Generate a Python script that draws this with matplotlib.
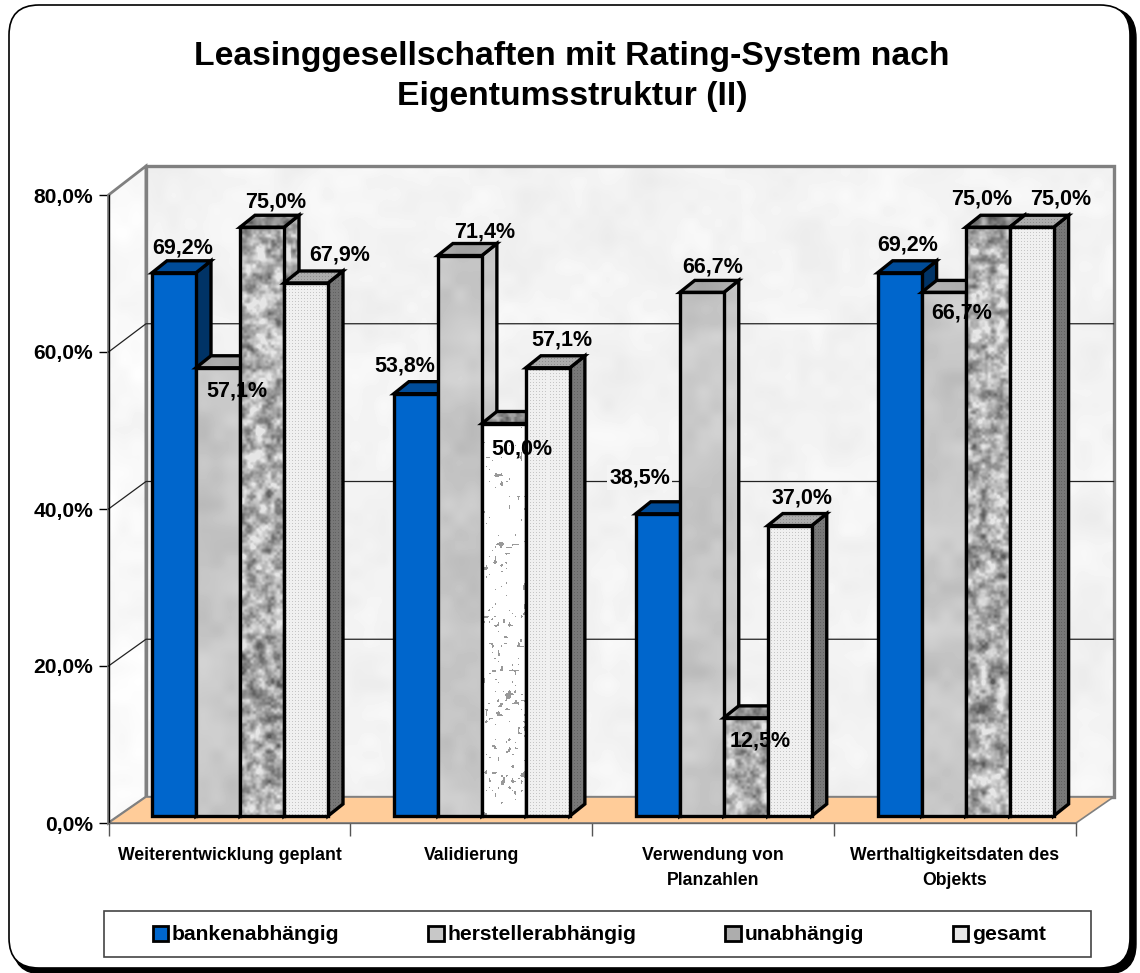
import numpy as np
import matplotlib
matplotlib.use("Agg")
import matplotlib.pyplot as plt
from matplotlib.patches import Polygon, Patch, FancyBboxPatch, Rectangle

plt.rcParams['font.family'] = ['Liberation Sans', 'DejaVu Sans']
plt.rcParams['font.weight'] = 'bold'

title = "Leasinggesellschaften mit Rating-System nach\nEigentumsstruktur (II)"
categories = ["Weiterentwicklung geplant", "Validierung",
              "Verwendung von\nPlanzahlen", "Werthaltigkeitsdaten des\nObjekts"]
series = ["bankenabhängig", "herstellerabhängig", "unabhängig", "gesamt"]
bankenabhaengig = [69.2, 53.8, 38.5, 69.2]
herstellerabhaengig = [57.1, 71.4, 66.7, 66.7]
unabhaengig = [75.0, 50.0, 12.5, 75.0]
gesamt = [67.9, 57.1, 37.0, 75.0]
yticks = [0, 20, 40, 60, 80]

# label offsets from bar centre / bar top, in pixels (up is positive)
label_off = [
    [(9, 25), (19, -23), (14, 25), (34, 28)],
    [(-11, 28), (25, 24), (18, -25), (14, 28)],
    [(-18, 36), (11, 25), (14, -23), (12, 28)],
    [(8, 28), (18, -21), (-6, 28), (29, 28)],
]

W, H = 1140, 973
ux = (1076 - 108.5) / 4   # px per category
uy = 628 / 80             # px per percent

yy, xx = np.mgrid[0:1000, 0:1200]


def noise(cell, seed):
    # value noise from a sine hash
    i, j = xx // cell, yy // cell
    fx, fy = (xx % cell) / cell, (yy % cell) / cell
    fx, fy = fx * fx * (3 - 2 * fx), fy * fy * (3 - 2 * fy)

    def h(a, b):
        v = np.sin(a * 12.9898 + b * 78.233 + seed) * 43758.5453
        return v - np.floor(v)
    top = h(i, j) * (1 - fx) + h(i + 1, j) * fx
    bot = h(i, j + 1) * (1 - fx) + h(i + 1, j + 1) * fx
    return top * (1 - fy) + bot * fy


soft = 0.6 * noise(40, 1.0) + 0.4 * noise(14, 2.0) - 0.5
tex_wall = np.clip(0.95 + 0.06 * soft, 0, 1)
tex_herst = np.clip(0.78 + 0.12 * soft, 0, 1)
n = 0.5 * noise(9, 3.0) + 0.3 * noise(5, 4.0) + 0.2 * noise(3, 5.0) - 0.5
tex_gran = np.clip(0.68 + 0.9 * n, 0.35, 0.9)
spk = noise(3, 6.0) * 0.7 + noise(12, 7.0) * 0.3
tex_spk = np.where(spk > 0.77, 0.6, 1.0)
tex_dots = np.ones_like(tex_wall)
tex_dots[::3, ::3] = 0.82
tex_dots = tex_dots * 0.94

styles = [
    # front, side, top : (texture, tint)
    ((None, "#0066CC"), (None, "#003366"), (None, "#004C99")),
    ((tex_herst, 1.0), (tex_herst, 1.02), (tex_herst, 0.86)),
    ((tex_gran, 1.0), (tex_gran, 1.0), (tex_gran, 0.8)),
    ((tex_dots, 1.0), (tex_dots, 0.5), (tex_dots, 0.72)),
]
style_spk = ((tex_spk, 1.0), (tex_herst, 1.0), (tex_gran, 0.8))

fig = plt.figure(figsize=(W / 100, H / 100), dpi=100)

# frame
bg = fig.add_axes([0, 0, 1, 1], zorder=0)
bg.set_xlim(0, W)
bg.set_ylim(H, 0)
bg.axis("off")
bg.add_patch(FancyBboxPatch((13, 8), 1123, 966, boxstyle="round,pad=0,rounding_size=30",
                            fc="black", ec="black", lw=1))
bg.add_patch(FancyBboxPatch((9, 5), 1121, 963, boxstyle="round,pad=0,rounding_size=30",
                            fc="white", ec="black", lw=1.2))

ax = fig.add_axes([108.5 / W, (H - 823) / H, (1076 - 108.5) / W, 628 / H], zorder=1)
ax.patch.set_visible(False)
ax.set_xlim(0, 4)
ax.set_ylim(0, 80)
ax.set_autoscale_on(False)

z = [2]


def face(pts, tex, tint, edge=True, lw=2.4, ec="black"):
    z[0] += 1
    pts = np.array(pts)
    poly = Polygon(pts, closed=True, clip_on=False, zorder=z[0] + 0.5, lw=lw if edge else 0,
                   fc="none" if tex is not None else tint, ec=ec, joinstyle="miter")
    ax.add_patch(poly)
    if tex is not None:
        x0, x1 = pts[:, 0].min(), pts[:, 0].max()
        y0, y1 = pts[:, 1].min(), pts[:, 1].max()
        w = max(int((x1 - x0) * ux) + 1, 1)
        h = max(int((y1 - y0) * uy) + 1, 1)
        ox, oy = int(x0 * 97) % (1200 - min(w, 1100)), int(y0 * 13) % (1000 - min(h, 900))
        im = ax.imshow(tex[oy:oy + h, ox:ox + w] * tint, cmap="gray", vmin=0, vmax=1,
                       extent=(x0, x1, y0, y1), aspect="auto", origin="lower",
                       interpolation="nearest", zorder=z[0])
        im.set_clip_box(fig.bbox)
        im.set_clip_path(Polygon(pts, closed=True, transform=ax.transData))


# walls and floor
wall_dx = 37.5 / ux
bot = 26 / uy
top = 80 + 29 / uy


def back_y(v):
    return bot + v * (top - bot) / 80


face([(0, 0), (wall_dx, bot), (wall_dx, top), (0, 80)], tex_wall, 1.03, ec="#808080", lw=2)
face([(wall_dx, bot), (4 + wall_dx, bot), (4 + wall_dx, top), (wall_dx, top)], tex_wall, 1.0,
     ec="#808080", lw=2.4)
face([(0, 0), (4, 0), (4 + wall_dx, bot), (wall_dx, bot)], None, "#FFCC99", ec="#808080", lw=1.2)

z[0] += 1
for v in yticks[1:-1]:
    ax.plot([0, wall_dx, 4 + wall_dx], [v, back_y(v), back_y(v)], color="#222222", lw=0.9,
            zorder=z[0], clip_on=False)

# bars
bar_x0 = (152 - 108.5) / ux
bar_w = 44 / ux
base = 7 / uy
ddx = 15 / ux
ddy = 12 / uy
values = [bankenabhaengig, herstellerabhaengig, unabhaengig, gesamt]

for g in range(4):
    for s in range(4):
        v = values[s][g]
        x0 = g + bar_x0 + s * bar_w
        x1 = x0 + bar_w
        yt = base + v
        st = styles[s]
        if s == 2 and g == 1:
            st = style_spk
        face([(x1, base), (x1 + ddx, base + ddy), (x1 + ddx, yt + ddy), (x1, yt)], *st[1])
        face([(x0, yt), (x0 + ddx, yt + ddy), (x1 + ddx, yt + ddy), (x1, yt)], *st[2])
        face([(x0, base), (x1, base), (x1, yt), (x0, yt)], *st[0])

# data labels on top of everything
for g in range(4):
    for s in range(4):
        v = values[s][g]
        cx = g + bar_x0 + (s + 0.5) * bar_w
        bbox = None
        if g == 2 and s == 0:
            bbox = dict(fc="#f4f4f4", ec="none", pad=1.5)
        ax.annotate(f"{v:.1f}%".replace(".", ","), (cx, base + v), xytext=label_off[g][s],
                    textcoords="offset pixels", ha="center", va="center", fontsize=15.5,
                    color="black", zorder=500, annotation_clip=False, bbox=bbox)

# axes
for sp in ["top", "right"]:
    ax.spines[sp].set_visible(False)
ax.spines["left"].set_color("black")
ax.spines["left"].set_linewidth(1)
ax.spines["bottom"].set_color("#666666")
ax.spines["bottom"].set_linewidth(1)
ax.spines["left"].set_zorder(400)
ax.spines["bottom"].set_zorder(400)
ax.set_yticks(yticks)
ax.set_yticklabels([f"{t},0%" for t in yticks], fontsize=15.1)
ax.tick_params(axis="y", length=7, width=1, pad=4)
ax.set_xticks(range(5))
ax.set_xticklabels([])
ax.tick_params(axis="x", which="major", length=9, width=1, color="#555555")
ax.set_xticks([0.5, 1.5, 2.5, 3.5], minor=True)
ax.set_xticklabels(categories, minor=True, fontsize=12.7, linespacing=1.68)
ax.tick_params(axis="x", which="minor", length=0, pad=17)

fig.text(572 / W, 1 - 76.5 / H, title, ha="center", va="center", fontsize=24.3, linespacing=1.41)

# legend
bg.add_patch(Rectangle((104, 911), 987, 46, fc="white", ec="#444444", lw=1.2))
colors = ["#0066CC", "#C8C8C8", "#ADADAD", "#E6E6E6"]
handles = [Patch(fc=c, ec="black", lw=2) for c in colors]
leg = ax.legend(handles, series, ncol=4, frameon=False, loc="center", fontsize=15.2,
                bbox_to_anchor=(599.5 / W, 1 - 935 / H), bbox_transform=fig.transFigure,
                handlelength=0.72, handleheight=0.72, handletextpad=0.2, columnspacing=4.2,
                borderaxespad=0, borderpad=0)
leg.set_zorder(600)

fig.savefig("out.png", dpi=100)
